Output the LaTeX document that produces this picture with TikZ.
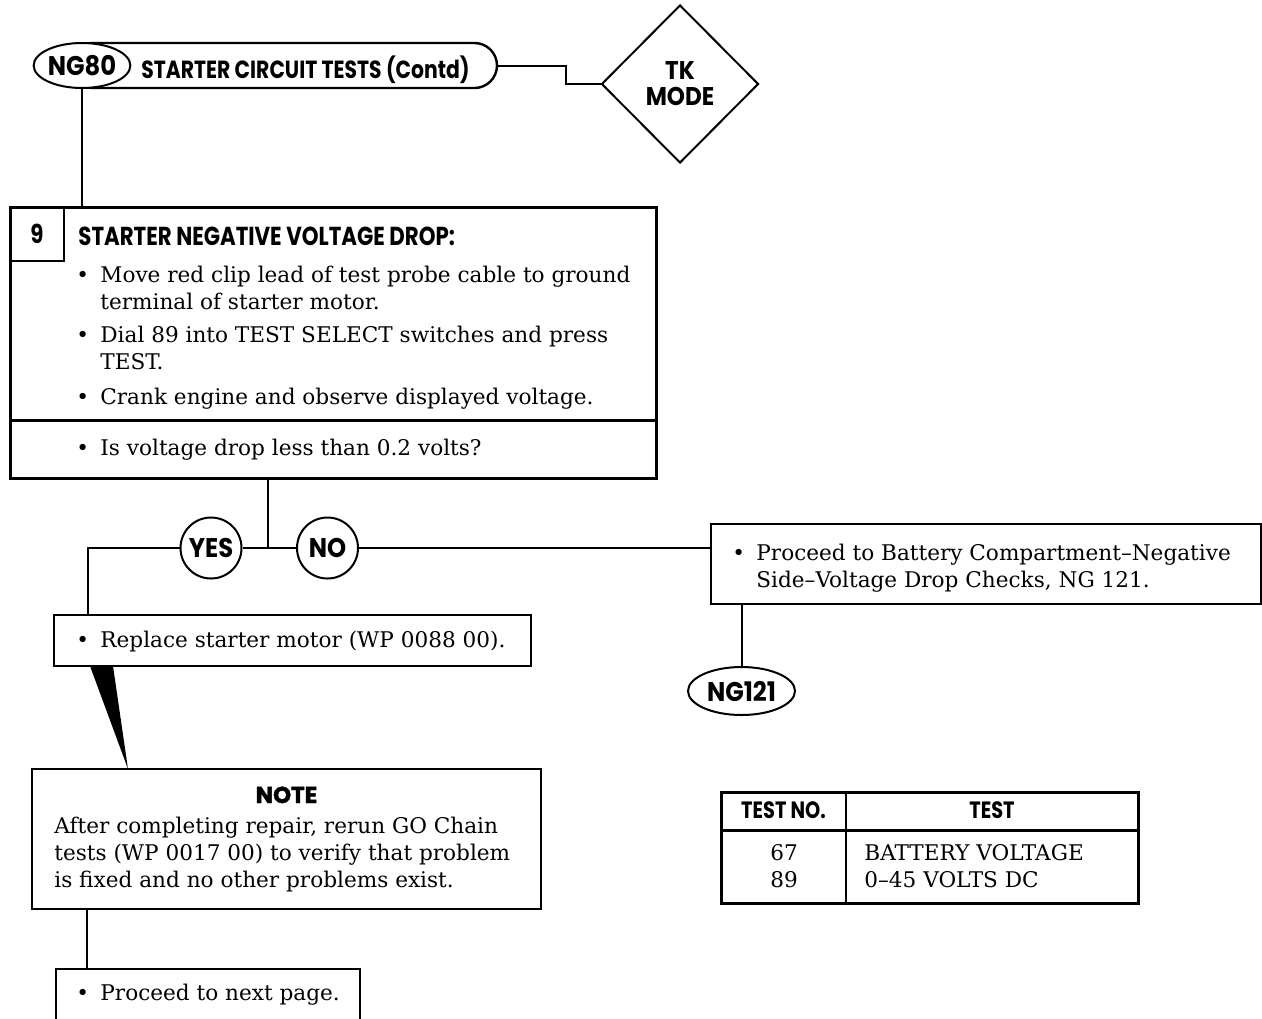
\documentclass[tikz,border=0pt]{standalone}
\usepackage{fontspec}
\setmainfont{DejaVu Serif}
\newfontfamily\hdfont{Poppins}[FakeStretch=0.82]
\newfontfamily\ovfont{Poppins}[FakeStretch=0.9]
\newfontfamily\notefont{Poppins}[BoldFeatures={FakeBold=2}]
\usetikzlibrary{shapes.geometric,positioning}
% bullet item, continuation lines start with &
\newcommand{\bitem}[1]{\begin{tabular}[t]{@{}l@{}l@{}}\makebox[12pt][l]{\textbullet}&#1\end{tabular}}
\begin{document}
\begin{tikzpicture}[x=0.5pt,y=-0.5pt,
    box/.style={draw,line width=1.2pt,inner sep=0pt,outer sep=0pt},
    heavybox/.style={box,line width=1.5pt},
    oval/.style={draw,ellipse,line width=1pt,fill=white,inner sep=0pt,font=\ovfont\bfseries\fontsize{13.5}{15}\selectfont},
    answer/.style={draw,circle,line width=1pt,fill=white,inner sep=0pt,minimum size=30.5pt,font=\ovfont\bfseries\fontsize{13.5}{14}\selectfont},
    body/.style={inner sep=0pt,anchor=base west,font=\fontsize{10.8}{13.5}\selectfont},
    head/.style={inner sep=0pt,anchor=base west,font=\hdfont\bfseries\fontsize{13}{14}\selectfont},
    link/.style={line width=1pt}]
    \useasboundingbox (0,0) rectangle (1262,1018);
    % header
    \node[box,rounded corners=11.25pt,minimum width=213.5pt,minimum height=22.5pt,anchor=north west] (hdr) at (70,43) {};
    \node[oval,minimum width=46.5pt,minimum height=22.5pt] (ng80) at (82,65.5) {NG80};
    \node[head,font=\hdfont\bfseries\fontsize{12.4}{14}\selectfont] (hdrtxt) at (141,78) {STARTER CIRCUIT TESTS (Contd)};
    \node[draw,diamond,line width=1pt,inner sep=0pt,minimum width=78.5pt,minimum height=79pt,align=center,
        font=\ovfont\bfseries\fontsize{12.8}{13}\selectfont] (tk) at (680,84) {TK\\MODE};
    \coordinate (jog) at (566,75);
    \draw[link] (hdr.east) -| (jog) |- (tk.west);
    % step 9
    \node[heavybox,minimum width=323pt,minimum height=135.5pt,anchor=north west] (step) at (10,207) {};
    \node[box,minimum size=27pt,anchor=north west,font=\hdfont\bfseries\fontsize{13}{14}\selectfont] (stepno) at (step.north west) {9};
    \draw[line width=1.5pt] (step.west |- 0,420) -- (step.east |- 0,420);
    \draw[link] (ng80.south) -- (ng80.south |- step.north);
    \node[head] (steptitle) at (78,245) {STARTER NEGATIVE VOLTAGE DROP:};
    \node[body] (b1) at (76,282) {\bitem{Move red clip lead of test probe cable to ground\\&terminal of starter motor.}};
    \node[body] (b2) at (76,342) {\bitem{Dial 89 into TEST SELECT switches and press\\&TEST.}};
    \node[body] (b3) at (76,404) {\bitem{Crank engine and observe displayed voltage.}};
    \node[body] (ask) at (76,455) {\bitem{Is voltage drop less than 0.2 volts?}};
    % yes / no
    \coordinate (fork) at (268,548);
    \draw[link] (step.south -| fork) -- (fork);
    \node[answer] (yes) at (211,548) {YES};
    \node[answer] (no) at (327.5,548) {NO};
    \draw[link] (yes) -- (no);
    \node[box,minimum width=238.5pt,minimum height=25.5pt,anchor=north west] (repl) at (54,615) {};
    \coordinate (lft) at (88,548);
    \draw[link] (yes) -- (lft) -- (lft |- repl.north);
    \node[body] (repltxt) at (76,647) {\bitem{Replace starter motor (WP 0088 00).}};
    \node[box,minimum width=275pt,minimum height=40pt,anchor=north west] (proc) at (711,524) {};
    \draw[link] (no) -- (no -| proc.west);
    \node[body] (proctxt) at (732,560) {\bitem{Proceed to Battery Compartment--Negative\\&Side--Voltage Drop Checks, NG 121.}};
    \node[oval,minimum width=53.5pt,minimum height=24pt] (ng121) at (741.5,691) {NG121};
    \draw[link] (ng121) -- (ng121 |- proc.south);
    % note
    \fill (90,666) -- (113,666) -- (128,769) -- cycle;
    \node[box,minimum width=254.5pt,minimum height=70pt,anchor=north west] (note) at (32,769) {};
    \node[inner sep=0pt,anchor=base,font=\notefont\bfseries\fontsize{11.5}{12}\selectfont] (notehd) at (286.5,803) {NOTE};
    \node[body] (notetxt) at (54,833) {\begin{tabular}[t]{@{}l@{}}After completing repair, rerun GO Chain\\tests (WP 0017 00) to verify that problem\\is fixed and no other problems exist.\end{tabular}};
    \node[box,minimum width=152pt,minimum height=40pt,anchor=north west] (next) at (56,969) {};
    \draw[link] (note.south -| 87,0) -- (next.north -| 87,0);
    \node[body] (nexttxt) at (76,1000) {\bitem{Proceed to next page.}};
    % test table
    \node[heavybox,minimum width=208.5pt,minimum height=55.5pt,anchor=north west] (tbl) at (721,792) {};
    \draw[line width=1.2pt] (tbl.north -| 846,0) -- (tbl.south -| 846,0);
    \draw[line width=1.5pt] (tbl.west |- 0,830) -- (tbl.east |- 0,830);
    \node[head,anchor=base,font=\hdfont\bfseries\fontsize{11.8}{12}\selectfont] (thno) at (783.5,818) {TEST NO.};
    \node[head,anchor=base,font=\hdfont\bfseries\fontsize{11.8}{12}\selectfont] (thtest) at (992,818) {TEST};
    \node[body,anchor=base] (n67) at (784,860) {67};
    \node[body,anchor=base] (n89) at (784,887) {89};
    \node[body] (t67) at (864,860) {BATTERY VOLTAGE};
    \node[body] (t89) at (864,887) {0--45 VOLTS DC};
\end{tikzpicture}
\end{document}
